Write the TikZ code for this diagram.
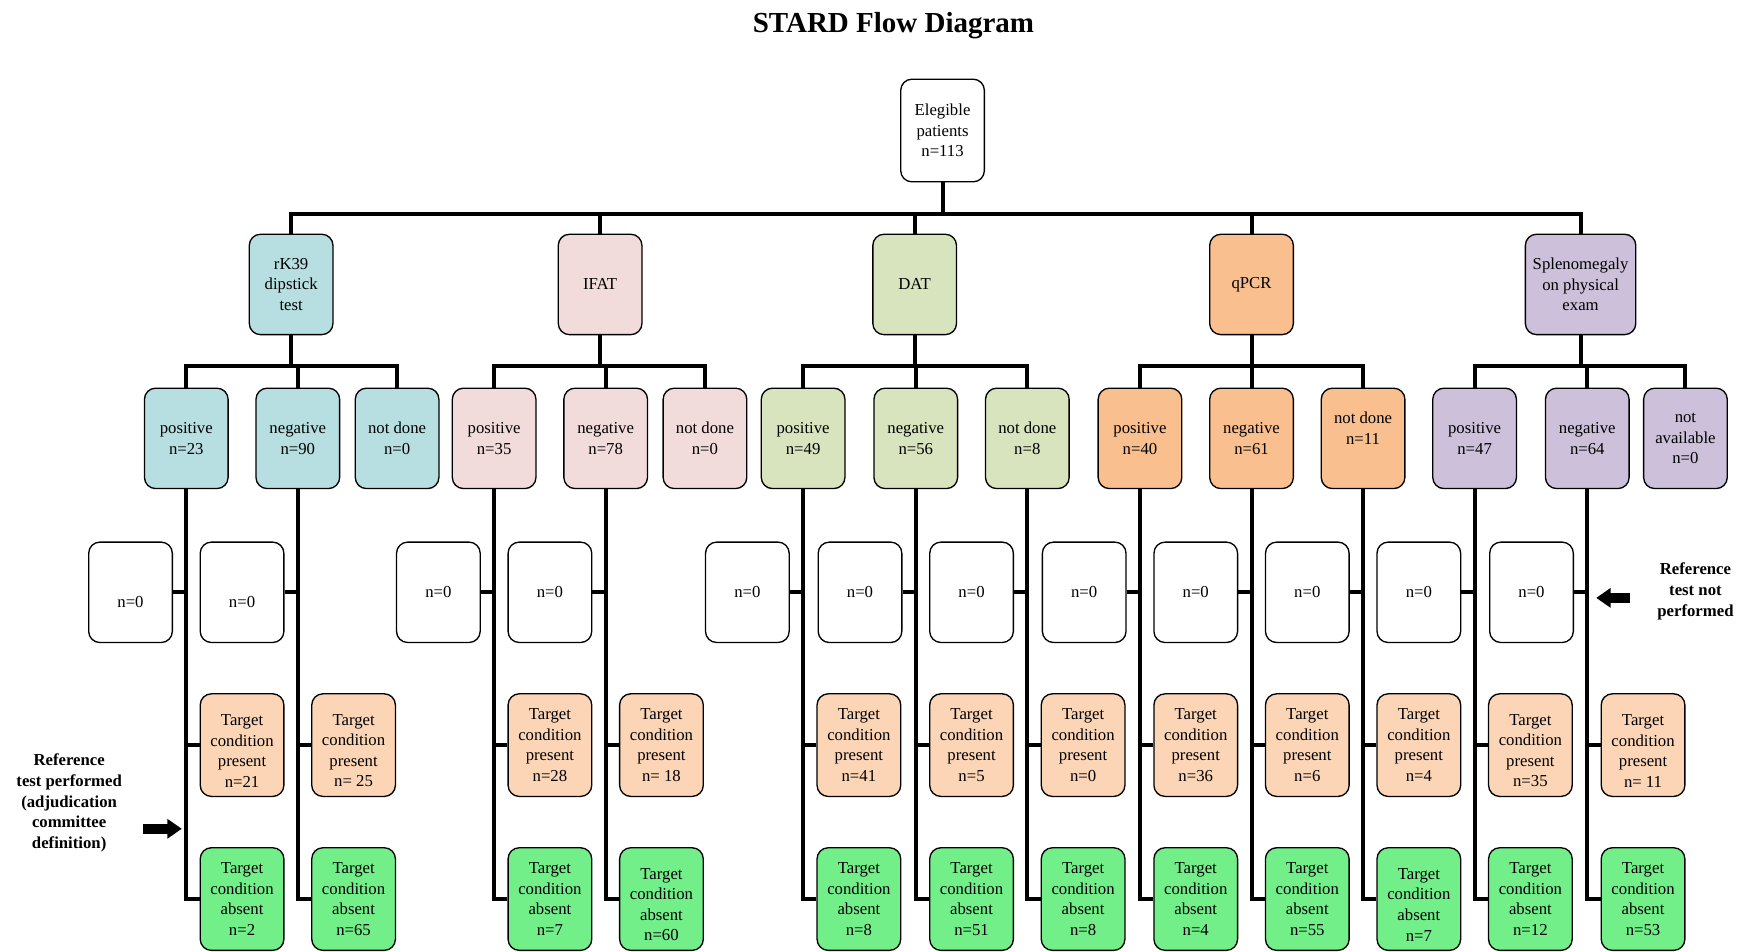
\documentclass[tikz,border=0pt]{standalone}
\usepackage{fontspec}
\setmainfont{Liberation Serif}
\usetikzlibrary{arrows.meta}
\definecolor{cRK}{HTML}{B7DEE0}
\definecolor{cIF}{HTML}{F2DCDB}
\definecolor{cDA}{HTML}{D7E4BD}
\definecolor{cQP}{HTML}{F9BF8F}
\definecolor{cSP}{HTML}{CCC0DA}
\definecolor{cPR}{HTML}{FBD5B5}
\definecolor{cAB}{HTML}{73EF89}
\begin{document}
\begin{tikzpicture}[x=0.5pt,y=-0.5pt,
  box/.style={draw=black, line width=0.6pt, rounded corners=5pt, align=center,
    font=\fontsize{7.5}{9.2}\selectfont, inner sep=1pt,
    minimum width=37.5pt, minimum height=45pt},
  conn/.style={line width=1.8pt},
  side/.style={align=center, font=\fontsize{7.5}{9.3}\selectfont\bfseries},
  bigarrow/.style={line width=4.5pt, -{Triangle[length=6.5pt,width=8.5pt]}}
]
\useasboundingbox (0,0) rectangle (1568,853);

\node[font=\fontsize{13}{15}\selectfont\bfseries, anchor=base] (title) at (801,29) {STARD Flow Diagram};

% root
\node[box, fill=white, minimum height=46pt] (elig) at (845,117) {Elegible\\patients\\n=113};

% tests
\node[box, fill=cRK] (rk) at (261,255) {rK39\\dipstick\\test};
\node[box, fill=cIF] (if) at (538,255) {IFAT};
\node[box, fill=cDA] (da) at (820,255) {DAT};
\node[box, fill=cQP] (qp) at (1122,255) {qPCR};
\node[box, fill=cSP, minimum width=49.5pt] (sp) at (1417,255) {Splenomegaly\\on physical\\exam};

\coordinate (bus) at (845,192);
\draw[conn] (elig.south) -- (bus);
\draw[conn] (rk.north) -- (rk.north |- bus) -- (sp.north |- bus) -- (sp.north);
\draw[conn] (if.north) -- (if.north |- bus);
\draw[conn] (da.north) -- (da.north |- bus);
\draw[conn] (qp.north) -- (qp.north |- bus);

% results
\node[box, fill=cRK] (rkp) at (167,393) {positive\\n=23};
\node[box, fill=cRK] (rkn) at (267,393) {negative\\n=90};
\node[box, fill=cRK] (rkx) at (356,393) {not done\\n=0};
\node[box, fill=cIF] (ifp) at (443,393) {positive\\n=35};
\node[box, fill=cIF] (ifn) at (543,393) {negative\\n=78};
\node[box, fill=cIF] (ifx) at (632,393) {not done\\n=0};
\node[box, fill=cDA] (dap) at (720,393) {positive\\n=49};
\node[box, fill=cDA] (dan) at (821,393) {negative\\n=56};
\node[box, fill=cDA] (dax) at (921,393) {not done\\n=8};
\node[box, fill=cQP] (qpp) at (1022,393) {positive\\n=40};
\node[box, fill=cQP] (qpn) at (1122,393) {negative\\n=61};
\node[box, fill=cQP] (qpx) at (1222,393) {not done\\n=11\\ };
\node[box, fill=cSP] (spp) at (1322,393) {positive\\n=47};
\node[box, fill=cSP] (spn) at (1423,393) {negative\\n=64};
\node[box, fill=cSP] (spx) at (1511,393) {not\\available\\n=0};

\foreach \t/\c in {rk/261, if/538, da/820, qp/1122, sp/1417}{
  \coordinate (\t b) at (\c,328);
  \draw[conn] (\t.south) -- (\t b);
  \draw[conn] (\t p.north) -- (\t p.north |- \t b) -- (\t x.north |- \t b) -- (\t x.north);
  \draw[conn] (\t n.north) -- (\t n.north |- \t b);
}

% reference outcomes
\foreach \p/\v/\a/\b/\z/\sa/\sb in {
  rkp/167/{n=21}/{n=2}/{\raisebox{-7pt}[0pt][0pt]{n=0}}/{\rule{0pt}{10pt}}/{},
  rkn/267/{n=\ 25}/{n=65}/{\raisebox{-7pt}[0pt][0pt]{n=0}}/{\rule{0pt}{10pt}}/{},
  ifp/443/{n=28}/{n=7}/{n=0}/{}/{},
  ifn/543/{n=\ 18}/{n=60}/{n=0}/{}/{\rule{0pt}{10pt}},
  dap/720/{n=41}/{n=8}/{n=0}/{}/{},
  dan/821/{n=5}/{n=51}/{n=0}/{}/{},
  dax/921/{n=0}/{n=8}/{n=0}/{}/{},
  qpp/1022/{n=36}/{n=4}/{n=0}/{}/{},
  qpn/1122/{n=6}/{n=55}/{n=0}/{}/{},
  qpx/1222/{n=4}/{n=7}/{n=0}/{}/{\rule{0pt}{10pt}},
  spp/1322/{n=35}/{n=12}/{n=0}/{\rule{0pt}{10pt}}/{},
  spn/1423/{n=\ 11}/{n=53}/{n=0}/{\rule{0pt}{10pt}}/{}}{
  \node[box, fill=white] (z\p) at (\v-50,531) {\z};
  \node[box, fill=cPR, minimum height=46pt] (t\p) at (\v+50,668) {\sa Target\\condition\\present\\\a};
  \node[box, fill=cAB, minimum height=46pt] (u\p) at (\v+50,806) {\sb Target\\condition\\absent\\\b};
  \draw[conn] (\p.south) |- (u\p.west);
  \draw[conn] (z\p.east) -- (z\p.east -| \p.south);
  \draw[conn] (t\p.west) -- (t\p.west -| \p.south);
}

% side notes
\node[side] (refl) at (62,720) {Reference\\test performed\\(adjudication\\committee\\definition)};
\coordinate (al) at (128,743);
\coordinate (alt) at (163,743);
\draw[bigarrow] (al) -- (alt);

\node[side] (refr) at (1520,530) {Reference\\test not\\performed};
\coordinate (ar) at (1461,536);
\coordinate (art) at (1431,536);
\draw[bigarrow] (ar) -- (art);
\end{tikzpicture}
\end{document}
